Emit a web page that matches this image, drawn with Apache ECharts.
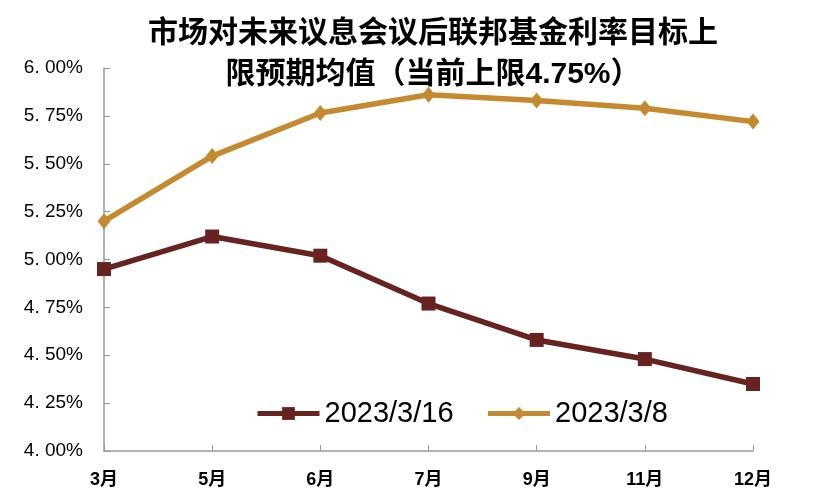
<!DOCTYPE html>
<html>
<head>
<meta charset="utf-8">
<script src="https://cdn.jsdelivr.net/npm/echarts@6/dist/echarts.min.js"></script>
<style>
  html, body { margin: 0; padding: 0; background: #fff; }
  #main { width: 820px; height: 498px; }
</style>
</head>
<body>
<div id="main"></div>
<script>
  // 数据
  var months = ['3月', '5月', '6月', '7月', '9月', '11月', '12月'];
  var rate0316 = [4.95, 5.12, 5.02, 4.77, 4.58, 4.48, 4.35];
  var rate0308 = [5.20, 5.54, 5.765, 5.86, 5.83, 5.79, 5.72];
  var yTicks = [4.00, 4.25, 4.50, 4.75, 5.00, 5.25, 5.50, 5.75, 6.00];

  var colors = ['#672222', '#C58A30'];
  var font = '"Liberation Sans", Arial, "Noto Sans CJK SC", sans-serif';

  var myChart = echarts.init(document.getElementById('main'));
  var option = {
    animation: false,
    color: colors,
    title: {
      text: '市场对未来议息会议后联邦基金利率目标上\n限预期均值（当前上限4.75%）',
      left: 428,
      textAlign: 'center',
      top: 8,
      textStyle: {
        fontFamily: font,
        fontSize: 30,
        fontWeight: 'bold',
        color: '#000',
        lineHeight: 41
      }
    },
    legend: {
      left: 250,
      top: 394,
      itemWidth: 62,
      itemHeight: 16,
      itemGap: 32,
      lineStyle: { width: 5 },
      textStyle: { fontFamily: font, fontSize: 29, color: '#000' },
      data: ['2023/3/16', '2023/3/8']
    },
    grid: { left: 104, right: 67, top: 68, bottom: 47, containLabel: false },
    xAxis: {
      type: 'category',
      boundaryGap: false,
      data: months,
      axisLine: { lineStyle: { color: '#999', width: 1.5 } },
      axisTick: { inside: true, length: 6, lineStyle: { color: '#999' } },
      axisLabel: {
        fontFamily: font, fontSize: 18, fontWeight: 'bold', color: '#000', margin: 20
      }
    },
    yAxis: {
      type: 'value',
      min: 4.0,
      max: 6.0,
      interval: 0.25,
      splitLine: { show: false },
      axisLine: { show: true, lineStyle: { color: '#999', width: 1.5 } },
      axisTick: { show: true, inside: true, length: 6, lineStyle: { color: '#999' } },
      axisLabel: {
        fontFamily: font, fontSize: 19, color: '#000', margin: 21,
        formatter: function (v) {
          return v.toFixed(2).replace('.', '. ') + '%';
        }
      }
    },
    series: [
      {
        name: '2023/3/16',
        type: 'line',
        data: rate0316,
        symbol: 'rect',
        symbolSize: 14,
        lineStyle: { width: 5.5, color: colors[0] },
        itemStyle: { color: colors[0] }
      },
      {
        name: '2023/3/8',
        type: 'line',
        data: rate0308,
        symbol: 'diamond',
        symbolSize: [13, 16],
        lineStyle: { width: 5.5, color: colors[1] },
        itemStyle: { color: colors[1] }
      }
    ]
  };
  myChart.setOption(option);
</script>
</body>
</html>
